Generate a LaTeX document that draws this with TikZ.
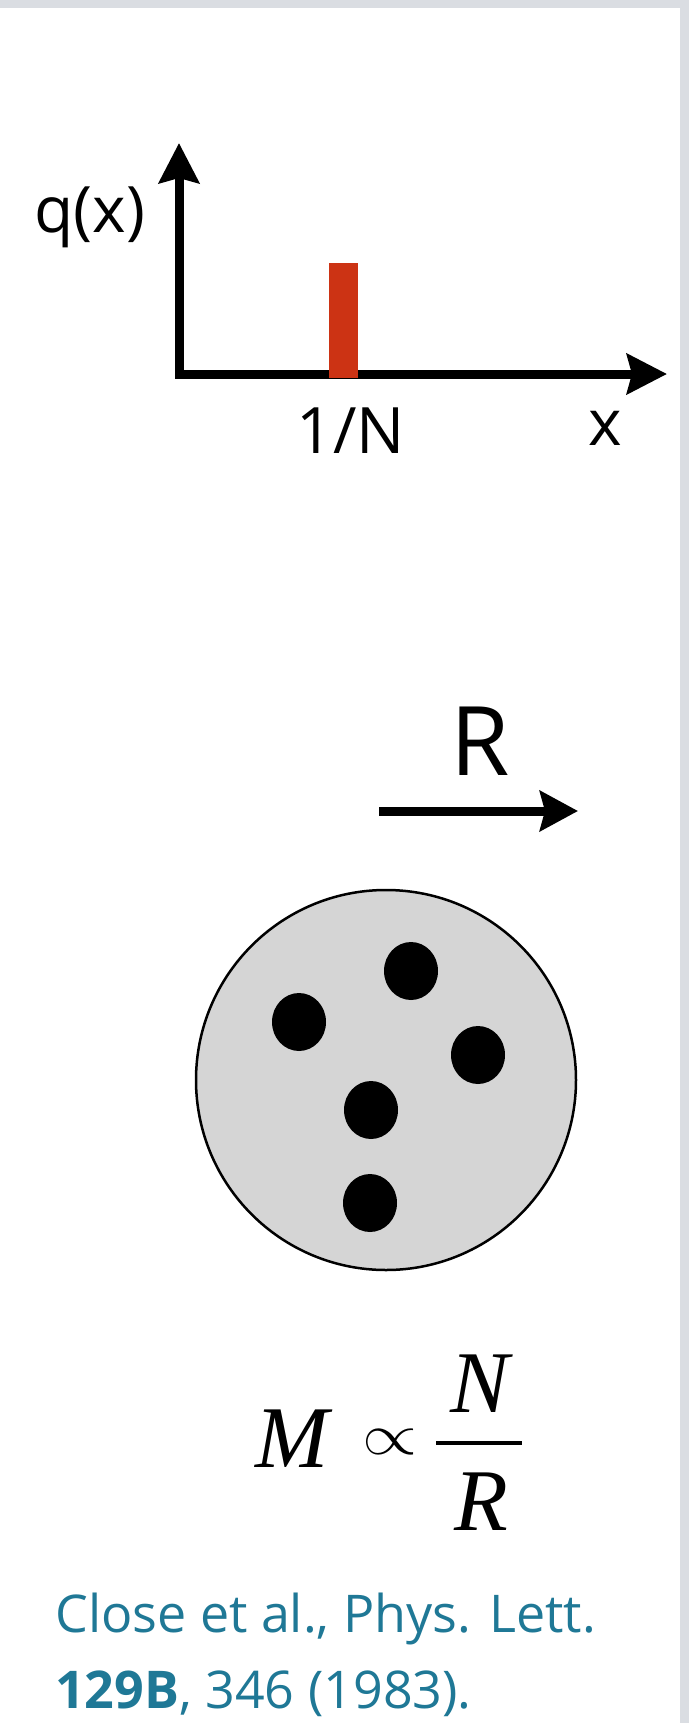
\documentclass[tikz,border=0pt]{standalone}
\usepackage{fontspec}
\setmainfont{Open Sans}
\newfontfamily\formulafont{Liberation Serif}
\usetikzlibrary{arrows.meta}
\definecolor{framegray}{HTML}{DADDE2}
\definecolor{barred}{HTML}{CC3314}
\definecolor{citeblue}{HTML}{1F7896}
\definecolor{ballgray}{HTML}{D5D5D5}
\tikzset{
  bigtip/.style={Stealth[length=40pt,width=40pt,inset=5pt]},
  axisline/.style={line width=9pt, line join=miter},
  lbl/.style={inner sep=0pt, anchor=base, font=\fontsize{64}{70}\selectfont},
  fml/.style={inner sep=0pt, anchor=base, font=\formulafont\itshape\fontsize{88}{96}\selectfont},
  cite/.style={inner sep=0pt, anchor=base west, text=citeblue, font=\fontsize{52}{58}\selectfont},
  quark/.style={fill=black},
}
\begin{document}
\begin{tikzpicture}[x=1pt,y=-1pt]
\useasboundingbox (0,0) rectangle (689,1723);
\fill[white] (0,0) rectangle (689,1723);
\fill[framegray] (0,0) rectangle (689,8);
\fill[framegray] (680,0) rectangle (689,1723);

% axes
\coordinate (ytip) at (179,143);
\coordinate (origin) at (179,374);
\coordinate (xtip) at (667,374);
\draw[axisline, {Stealth[length=40pt,width=40pt,inset=5pt]}-{Stealth[length=40pt,width=40pt,inset=5pt]}] (ytip) -- (origin) -- (xtip);
\fill[barred] (329,263) rectangle (358,378);
\node[lbl] (qx) at (90,233) {q(x)};
\node[lbl] (oneN) at (351,453) {1/N};
\node[lbl] (xl) at (605,445) {x};

% R arrow
\node[lbl, font=\fontsize{96}{104}\selectfont] (Rl) at (480,775) {R};
\coordinate (ra) at (379,811);
\coordinate (rb) at (578,811);
\draw[line width=9pt, -{Stealth[length=38pt,width=40pt,inset=5pt]}] (ra) -- (rb);

% bag
\draw[line width=2.5pt, fill=ballgray] (386,1080) circle[radius=190pt];
\fill[quark] (411,971) ellipse[x radius=27pt, y radius=29pt];
\fill[quark] (299,1022) ellipse[x radius=27pt, y radius=29pt];
\fill[quark] (478,1055) ellipse[x radius=27pt, y radius=29pt];
\fill[quark] (371,1110) ellipse[x radius=27pt, y radius=29pt];
\fill[quark] (370,1203) ellipse[x radius=27pt, y radius=29pt];

% formula
\node[fml] (fM) at (292,1467) {M};
\node[inner sep=0pt] (prop) at (390,1442) {\resizebox{55pt}{25pt}{$\propto$}};
\node[fml] (fN) at (480,1412) {N};
\node[fml] (fR) at (481,1530) {R};
\draw[line width=3.5pt] (436,1443) -- (522,1443);

% citation
\node[cite] (c1) at (55,1632) {Close et al., Phys. Lett.};
\node[cite] (c2) at (55,1708) {\textbf{129B}, 346 (1983).};
\end{tikzpicture}
\end{document}
